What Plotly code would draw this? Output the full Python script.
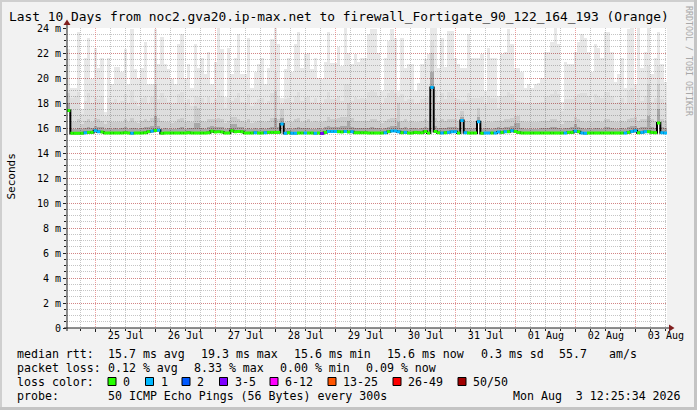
import pandas as pd
import plotly.graph_objects as go

# ---------------- data ----------------
END = pd.Timestamp("2026-08-03 12:25:34")
START = END - pd.Timedelta(days=10)
BUCKET_MIN = 80  # consolidation step of the smoke columns

# top of smoke (max ping, ms) per bucket
ping_max = [
    22.3, 19.2, 19.2, 23.7, 17.5, 21.6, 23.2, 19.9, 22.4, 20.8,
    21.6, 17.3, 21.6, 19.5, 20.9, 20.9, 20.5, 22.3, 19.5, 23.9,
    20.7, 20.0, 20.8, 22.9, 19.5, 19.5, 23.9, 21.1, 23.3, 21.1,
    20.7, 19.9, 19.5, 22.7, 23.5, 20.0, 21.1, 19.2, 22.7, 20.8,
    21.6, 20.3, 22.1, 19.5, 21.3, 24.0, 22.3, 18.5, 22.4, 20.3,
    21.6, 23.5, 20.3, 20.3, 23.2, 19.2, 20.5, 21.1, 21.6, 19.5,
    20.8, 23.1, 24.0, 22.7, 18.4, 20.7, 21.6, 20.5, 22.7, 23.7,
    20.8, 21.9, 22.0, 20.7, 21.6, 20.0, 19.9, 21.3, 23.7, 21.2,
    21.2, 22.5, 21.0, 24.0, 22.0, 21.1, 21.9, 21.3, 21.6, 21.6,
    23.5, 23.9, 23.9, 22.0, 19.0, 21.6, 23.0, 23.9, 23.2, 19.0,
    23.2, 20.8, 21.1, 21.1, 19.0, 19.6, 21.1, 21.5, 21.9, 24.0,
    24.0, 20.8, 23.2, 20.9, 23.8, 23.8, 21.6, 21.1, 20.8, 20.8,
    23.5, 21.6, 21.6, 21.6, 21.9, 19.0, 22.4, 21.6, 21.6, 18.6,
    21.9, 22.1, 23.9, 22.7, 20.8, 20.8, 20.5, 19.2, 19.5, 19.2,
    19.5, 19.6, 20.0, 22.1, 22.1, 22.9, 24.0, 22.7, 18.1, 21.3,
    21.1, 21.1, 22.1, 22.9, 23.5, 23.2, 22.1, 20.5, 22.7, 22.4,
    21.6, 23.7, 23.7, 22.1, 19.7, 20.3, 21.6, 19.2, 23.9, 24.0,
    19.5, 24.0, 20.8, 22.1, 24.0, 20.3, 21.6, 23.7, 21.1, 19.7,
]
# upper smoke band (ms)
ping_hi = [
    19.0, 18.4, 18.6, 18.9, 17.1, 18.2, 18.8, 18.0, 18.5, 18.3,
    18.6, 17.0, 18.4, 18.1, 18.3, 18.0, 18.2, 18.7, 18.0, 19.0,
    18.2, 17.8, 18.4, 18.6, 17.9, 18.5, 21.5, 18.3, 18.8, 18.4,
    18.1, 17.9, 18.0, 18.7, 18.9, 18.0, 18.3, 17.8, 18.6, 18.5,
    18.4, 18.0, 18.5, 17.9, 18.3, 19.0, 18.6, 17.6, 18.4, 18.2,
    18.4, 18.8, 18.1, 18.0, 18.7, 17.8, 18.1, 18.3, 18.4, 17.9,
    18.2, 18.8, 20.5, 18.6, 17.9, 18.3, 18.4, 18.1, 18.6, 18.9,
    18.2, 18.5, 18.6, 18.1, 18.4, 18.0, 17.9, 18.3, 18.9, 18.3,
    18.3, 18.6, 18.2, 19.5, 19.5, 18.2, 18.5, 18.3, 18.4, 18.3,
    18.9, 19.0, 18.9, 18.6, 17.9, 18.4, 18.8, 19.0, 18.8, 18.5,
    18.7, 18.2, 18.3, 18.3, 17.9, 18.0, 18.3, 18.4, 18.5, 23.0,
    19.0, 18.2, 18.8, 18.3, 18.9, 18.9, 18.4, 18.3, 18.2, 18.2,
    18.8, 18.4, 18.4, 18.4, 18.5, 17.9, 18.6, 18.4, 18.4, 17.6,
    18.5, 18.6, 18.9, 18.7, 18.2, 18.2, 18.1, 17.9, 18.0, 17.9,
    18.0, 18.0, 18.1, 18.6, 18.6, 18.7, 19.0, 18.7, 17.4, 18.3,
    18.3, 18.3, 18.6, 18.7, 18.8, 18.8, 18.6, 18.1, 18.7, 18.6,
    18.4, 18.9, 18.9, 18.6, 18.0, 18.1, 18.4, 17.9, 19.0, 19.2,
    18.0, 19.0, 18.2, 18.6, 21.0, 18.1, 18.4, 21.0, 18.3, 18.0,
]
# middle smoke band (ms)
ping_mid = [
    18.8, 16.5, 16.5, 16.7, 16.3, 16.6, 16.7, 16.5, 16.8, 16.7,
    16.6, 16.3, 16.6, 16.5, 16.5, 16.5, 16.5, 16.7, 16.5, 16.8,
    16.5, 16.4, 16.6, 16.7, 16.6, 16.8, 19.5, 16.8, 16.6, 16.5,
    16.5, 16.4, 16.5, 16.7, 16.8, 16.5, 16.6, 16.5, 17.8, 17.6,
    16.6, 16.5, 16.7, 16.7, 16.7, 16.8, 16.7, 16.4, 16.6, 16.9,
    16.9, 16.7, 16.6, 16.5, 16.7, 16.4, 16.5, 16.6, 16.6, 16.5,
    16.6, 16.8, 19.0, 16.7, 17.5, 16.5, 16.6, 16.5, 16.7, 16.8,
    16.5, 16.6, 16.7, 16.5, 16.6, 16.5, 16.5, 16.6, 16.9, 16.7,
    16.7, 16.8, 16.9, 16.9, 18.0, 16.8, 16.6, 16.6, 16.6, 16.6,
    16.6, 16.7, 16.7, 16.6, 16.4, 16.6, 16.7, 16.8, 16.8, 18.0,
    16.6, 16.7, 16.5, 16.6, 16.5, 16.5, 16.6, 16.7, 16.6, 22.0,
    16.8, 16.6, 16.7, 16.6, 16.7, 16.7, 16.7, 16.6, 17.4, 16.6,
    16.6, 16.5, 16.6, 17.6, 16.5, 16.5, 16.6, 16.5, 16.6, 16.6,
    16.6, 16.7, 16.7, 16.8, 17.0, 17.0, 16.6, 16.5, 16.5, 16.5,
    16.5, 16.5, 16.6, 16.6, 16.6, 16.7, 16.7, 16.6, 16.3, 16.6,
    16.6, 16.6, 16.9, 16.7, 16.6, 16.5, 16.6, 16.5, 16.6, 16.6,
    16.5, 16.7, 16.7, 16.6, 16.5, 16.5, 16.6, 16.5, 16.7, 16.8,
    16.9, 16.6, 16.7, 16.7, 19.5, 16.7, 16.6, 19.5, 16.7, 16.6,
]
# dense smoke just above the median (ms)
ping_dark = [
    18.0, 15.95, 15.95, 16.0, 15.9, 16.0, 16.05, 16.0, 16.15, 16.1,
    16.05, 15.9, 16.0, 15.95, 16.0, 15.95, 16.0, 16.05, 15.95, 16.0,
    16.0, 15.95, 16.0, 16.05, 16.1, 16.15, 17.0, 16.2, 15.95, 16.0,
    15.95, 15.95, 15.95, 16.0, 16.05, 15.95, 16.0, 16.0, 16.4, 16.4,
    16.0, 15.95, 16.05, 16.15, 16.1, 16.1, 16.05, 15.95, 16.0, 16.3,
    16.3, 16.1, 16.05, 15.95, 16.0, 15.95, 16.0, 15.95, 16.0, 15.95,
    16.0, 16.05, 16.8, 16.05, 16.8, 15.95, 16.0, 15.95, 16.0, 16.05,
    16.0, 16.0, 16.0, 15.95, 15.95, 16.0, 15.95, 16.05, 16.15, 16.1,
    16.1, 16.1, 16.2, 16.15, 16.6, 16.1, 16.0, 16.0, 16.0, 16.0,
    16.0, 16.05, 16.0, 16.0, 15.95, 16.0, 16.1, 16.15, 16.15, 16.5,
    16.0, 16.05, 15.95, 16.0, 16.0, 15.95, 16.0, 16.1, 16.0, 20.5,
    16.15, 16.0, 16.0, 16.0, 16.05, 16.1, 16.1, 16.0, 16.9, 16.0,
    16.0, 15.95, 16.0, 16.9, 15.95, 16.0, 16.0, 15.95, 16.0, 16.05,
    16.0, 16.1, 16.1, 16.2, 16.4, 16.4, 16.0, 15.95, 15.95, 15.95,
    15.95, 15.95, 16.0, 16.0, 16.0, 16.05, 16.05, 16.0, 15.9, 16.0,
    16.0, 16.05, 16.3, 16.1, 16.0, 15.95, 16.0, 15.95, 16.0, 16.0,
    15.95, 16.05, 16.05, 16.0, 15.95, 15.95, 16.0, 15.95, 16.05, 16.15,
    16.2, 16.0, 16.05, 16.1, 17.0, 16.05, 16.0, 17.5, 16.05, 16.0,
]
# median rtt (ms)
median_rtt = [
    17.40, 15.58, 15.58, 15.58, 15.58, 15.62, 15.65, 15.65, 15.78, 15.70,
    15.68, 15.60, 15.60, 15.60, 15.60, 15.60, 15.60, 15.62, 15.60, 15.58,
    15.60, 15.60, 15.60, 15.62, 15.70, 15.75, 15.80, 15.82, 15.58, 15.60,
    15.60, 15.60, 15.60, 15.60, 15.60, 15.60, 15.62, 15.60, 15.60, 15.60,
    15.60, 15.60, 15.62, 15.75, 15.68, 15.70, 15.68, 15.60, 15.60, 15.78,
    15.70, 15.72, 15.70, 15.60, 15.60, 15.60, 15.62, 15.60, 15.60, 15.62,
    15.65, 15.65, 15.65, 15.65, 16.32, 15.58, 15.62, 15.58, 15.58, 15.60,
    15.60, 15.60, 15.60, 15.60, 15.58, 15.60, 15.56, 15.65, 15.72, 15.72,
    15.72, 15.70, 15.68, 15.72, 15.68, 15.70, 15.62, 15.62, 15.62, 15.62,
    15.60, 15.60, 15.60, 15.60, 15.60, 15.62, 15.70, 15.76, 15.76, 15.70,
    15.62, 15.65, 15.60, 15.60, 15.65, 15.62, 15.62, 15.72, 15.60, 19.25,
    15.72, 15.62, 15.60, 15.62, 15.65, 15.70, 15.70, 15.60, 16.60, 15.62,
    15.60, 15.60, 15.60, 16.50, 15.58, 15.60, 15.60, 15.60, 15.60, 15.68,
    15.65, 15.70, 15.70, 15.78, 15.72, 15.65, 15.60, 15.60, 15.60, 15.60,
    15.60, 15.60, 15.60, 15.60, 15.60, 15.60, 15.60, 15.60, 15.60, 15.60,
    15.65, 15.65, 15.75, 15.70, 15.60, 15.58, 15.60, 15.60, 15.60, 15.60,
    15.60, 15.60, 15.60, 15.60, 15.60, 15.60, 15.60, 15.60, 15.65, 15.72,
    15.78, 15.62, 15.65, 15.70, 15.70, 15.65, 15.62, 16.40, 15.62, 15.60,
]
# lost pings (of 50) per bucket
loss_count = [
    0, 0, 0, 0, 0, 1, 0, 0, 1, 1,
    0, 0, 0, 0, 0, 0, 0, 0, 0, 1,
    0, 0, 0, 0, 0, 1, 0, 1, 0, 0,
    0, 0, 0, 0, 0, 0, 0, 0, 0, 0,
    0, 0, 0, 0, 0, 0, 0, 0, 0, 0,
    0, 0, 0, 0, 0, 0, 1, 0, 0, 1,
    0, 0, 0, 0, 1, 1, 0, 1, 1, 0,
    0, 1, 0, 0, 1, 0, 3, 0, 1, 1,
    1, 0, 0, 1, 0, 1, 0, 0, 0, 0,
    0, 0, 0, 0, 0, 1, 0, 1, 1, 1,
    0, 1, 0, 0, 0, 0, 0, 0, 0, 1,
    0, 0, 1, 0, 1, 1, 1, 0, 1, 1,
    0, 0, 0, 1, 0, 1, 1, 0, 1, 1,
    0, 1, 0, 1, 0, 0, 0, 0, 0, 0,
    0, 0, 0, 0, 0, 0, 0, 0, 0, 1,
    0, 0, 1, 0, 1, 1, 0, 0, 0, 0,
    0, 0, 0, 0, 0, 0, 0, 1, 0, 1,
    1, 0, 1, 1, 0, 0, 0, 0, 1, 1,
]

day_ticks = ["2026-07-25 12:00", "2026-07-26 12:00", "2026-07-27 12:00",
             "2026-07-28 12:00", "2026-07-29 12:00", "2026-07-30 12:00",
             "2026-07-31 12:00", "2026-08-01 12:00", "2026-08-02 12:00",
             "2026-08-03 12:00"]
day_labels = ["25 Jul", "26 Jul", "27 Jul", "28 Jul", "29 Jul", "30 Jul",
              "31 Jul", "01 Aug", "02 Aug", "03 Aug"]
y_ticks = [0, 2, 4, 6, 8, 10, 12, 14, 16, 18, 20, 22, 24]
y_labels = ["0", "2 m", "4 m", "6 m", "8 m", "10 m", "12 m", "14 m",
            "16 m", "18 m", "20 m", "22 m", "24 m"]

# loss colour classes: label, lowest, highest, colour
loss_classes = [
    ("0", 0, 0, "#26ff00"), ("1", 1, 1, "#00b8ff"), ("2", 2, 2, "#0059ff"),
    ("3-5", 3, 5, "#7e00ff"), ("6-12", 6, 12, "#ff00ff"),
    ("13-25", 13, 25, "#ff5500"), ("26-49", 26, 49, "#ff0000"),
    ("50/50", 50, 50, "#a10000"),
]

stat_rtt = ["15.7 ms avg", "19.3 ms max", "15.6 ms min", "15.6 ms now",
            "0.3 ms sd", "55.7", "am/s"]
stat_loss = ["0.12 % avg", "8.33 % max", "0.00 % min", "0.09 % now"]
probe_text = "50 ICMP Echo Pings (56 Bytes) every 300s"
stamp_text = "Mon Aug  3 12:25:34 2026"
title_text = ("Last 10 Days from noc2.gva20.ip-max.net to "
              "firewall_Fortigate_90_122_164_193 (Orange)")

# ---------------- layout helpers ----------------
W, H = 697, 410
PL, PR, PT, PB = 67, 667, 28, 328
FONT = "DejaVu Sans Mono"


def px(xp):
    return (xp - PL) / (PR - PL)


def py(yp):
    return (PB - yp) / (PB - PT)


step = pd.Timedelta(minutes=BUCKET_MIN)
n = len(median_rtt)
starts = [START + i * step for i in range(n)]
centers = [s + step / 2 for s in starts]
width_ms = BUCKET_MIN * 60 * 1000

fig = go.Figure()

# smoke: stacked bands above the median
bands = [
    (median_rtt, ping_dark, "rgba(0,0,0,0.34)"),
    (ping_dark, ping_mid, "rgba(0,0,0,0.20)"),
    (ping_mid, ping_hi, "rgba(0,0,0,0.13)"),
    (ping_hi, ping_max, "rgba(0,0,0,0.09)"),
]
for lo, hi, col in bands:
    fig.add_trace(go.Bar(
        x=centers, y=[h - l for l, h in zip(lo, hi)], base=lo,
        width=width_ms, marker=dict(color=col, line=dict(width=0)),
        hoverinfo="skip", showlegend=False))

# thin black median line
fig.add_trace(go.Scatter(
    x=starts + [END], y=median_rtt + [median_rtt[-1]], mode="lines",
    line=dict(color="#000000", width=2, shape="hv"),
    hoverinfo="skip", showlegend=False))

# coloured median segments by loss
for label, lo_c, hi_c, col in loss_classes:
    xs, ys = [], []
    for i in range(n):
        if lo_c <= loss_count[i] <= hi_c:
            xs += [starts[i], starts[i] + step, None]
            ys += [median_rtt[i], median_rtt[i], None]
    if xs:
        fig.add_trace(go.Scatter(
            x=xs, y=ys, mode="lines", line=dict(color=col, width=3),
            hoverinfo="skip", showlegend=False, connectgaps=False))

# carrier for the label axis
fig.add_trace(go.Scatter(x=[START, END], y=[0, 0], xaxis="x2", mode="markers",
                         marker=dict(opacity=0), hoverinfo="skip",
                         showlegend=False))

MINOR = "rgba(150,150,150,0.55)"
MAJOR = "rgba(222,80,80,0.55)"
DASH = "1px,1px"

fig.update_layout(
    width=W, height=H, autosize=False,
    margin=dict(l=PL, r=W - PR, t=PT, b=H - PB, pad=0),
    paper_bgcolor="#F2F2F2", plot_bgcolor="#FFFFFF",
    barmode="overlay", bargap=0,
    font=dict(family=FONT, color="#000000", size=10),
    showlegend=False,
    xaxis=dict(
        type="date", range=[START, END], showticklabels=False,
        tick0="2026-07-25", dtick=86400000,
        showgrid=True, gridcolor=MAJOR, griddash=DASH, gridwidth=1,
        ticks="outside", ticklen=3, tickcolor="#1F1F1F",
        minor=dict(tick0="2026-07-25", dtick=6 * 3600 * 1000, showgrid=True,
                   gridcolor=MINOR, griddash=DASH, ticks="outside",
                   ticklen=2, tickcolor="#1F1F1F"),
        zeroline=False, showline=False, fixedrange=True),
    xaxis2=dict(
        type="date", range=[START, END], overlaying="x", anchor="y",
        side="bottom", tickvals=day_ticks, ticktext=day_labels,
        showgrid=False, ticks="", tickfont=dict(size=10, family=FONT),
        zeroline=False, showline=False, fixedrange=True),
    yaxis=dict(
        range=[0, 24], tickvals=y_ticks, ticktext=y_labels,
        showgrid=True, gridcolor=MAJOR, griddash=DASH,
        ticks="outside", ticklen=3, tickcolor="#1F1F1F",
        tickfont=dict(size=10, family=FONT),
        minor=dict(dtick=0.5, tick0=0, showgrid=True, gridcolor=MINOR,
                   griddash=DASH, ticks="outside", ticklen=2,
                   tickcolor="#1F1F1F"),
        zeroline=False, showline=False, fixedrange=True),
)

shapes = []
# frame
shapes += [
    dict(type="rect", xref="paper", yref="paper", x0=px(0), x1=px(W),
         y0=py(0), y1=py(2), fillcolor="#CFCFCF", line=dict(width=0)),
    dict(type="rect", xref="paper", yref="paper", x0=px(0), x1=px(2),
         y0=py(0), y1=py(H), fillcolor="#CFCFCF", line=dict(width=0)),
    dict(type="rect", xref="paper", yref="paper", x0=px(W - 3), x1=px(W),
         y0=py(0), y1=py(H), fillcolor="#C4C4C4", line=dict(width=0)),
    dict(type="rect", xref="paper", yref="paper", x0=px(0), x1=px(W),
         y0=py(H - 3), y1=py(H), fillcolor="#C4C4C4", line=dict(width=0)),
]
# axes with arrows
shapes += [
    dict(type="line", xref="paper", yref="paper", x0=px(PL - 3), x1=px(670),
         y0=py(PB), y1=py(PB), line=dict(color="#1F1F1F", width=1),
         layer="above"),
    dict(type="line", xref="paper", yref="paper", x0=px(PL), x1=px(PL),
         y0=py(PB + 3), y1=py(24), line=dict(color="#1F1F1F", width=1),
         layer="above"),
    dict(type="path", xref="paper", yref="paper",
         path=f"M {px(669)} {py(324.5)} L {px(674.5)} {py(328)} "
              f"L {px(669)} {py(331.5)} Z",
         fillcolor="#801F1F", line=dict(width=0), layer="above"),
    dict(type="path", xref="paper", yref="paper",
         path=f"M {px(63.5)} {py(25)} L {px(67)} {py(19.5)} "
              f"L {px(70.5)} {py(25)} Z",
         fillcolor="#801F1F", line=dict(width=0), layer="above"),
]

ann = []


def text(x, y, s, size=11.6, anchor="left", color="#000000", angle=0,
         yanchor="middle"):
    ann.append(dict(x=px(x), y=py(y), xref="paper", yref="paper", text=s,
                    showarrow=False, xanchor=anchor, yanchor=yanchor,
                    textangle=angle, borderpad=0,
                    font=dict(family=FONT, size=size, color=color)))


text(7.5, 16.5, title_text, size=12.9)
text(10.5, 177, "Seconds", size=11, anchor="center", angle=-90)
text(689, 61, "RRDTOOL / TOBI OETIKER", size=8.3, anchor="center",
     angle=90, color="#A8A8A8")

row_y = [354, 368, 382, 396]
text(16, row_y[0], "median rtt:")
for xx, s in zip([107, 200, 293, 386, 480, 558, 608], stat_rtt):
    text(xx, row_y[0], s)
text(16, row_y[1], "packet loss:")
for xx, s in zip([107, 193, 279, 365], stat_loss):
    text(xx, row_y[1], s)
text(16, row_y[2], "loss color:")
swatch_x = [108, 145.5, 182, 219.5, 270, 328, 393, 458]
for xx, (label, lo_c, hi_c, col) in zip(swatch_x, loss_classes):
    shapes.append(dict(type="rect", xref="paper", yref="paper",
                       x0=px(xx), x1=px(xx + 8), y0=py(377.5), y1=py(385.5),
                       fillcolor=col, line=dict(color="#000000", width=1)))
    text(xx + 14, row_y[2], label)
text(16, row_y[3], "probe:")
text(107, row_y[3], probe_text)
text(682, row_y[3], stamp_text, anchor="right")

fig.update_layout(shapes=shapes, annotations=ann)

fig.write_html("out.html", config={"displayModeBar": False},
               post_script="document.body.style.margin='0';"
                           "document.body.style.padding='0';")
